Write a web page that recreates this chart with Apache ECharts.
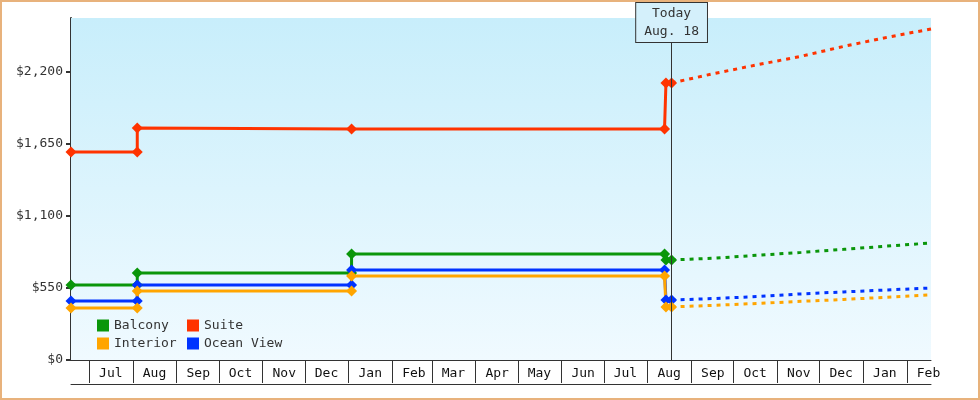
<!DOCTYPE html>
<html><head><meta charset="utf-8">
<script src="https://cdn.jsdelivr.net/npm/echarts@6/dist/echarts.min.js"></script>
<style>html,body{margin:0;padding:0;background:#fff}#c{width:980px;height:400px;box-sizing:border-box;border:2px solid #e8b27c}</style>
</head><body><div id="c"></div>
<script>
const suite = [['2024-06-18',1589],['2024-08-04',1589],['2024-08-04',1772],['2025-01-03',1765],['2025-08-13',1765],['2025-08-14',2116],['2025-08-18',2116]];
const balcony = [['2024-06-18',573],['2024-08-04',573],['2024-08-04',665],['2025-01-03',665],['2025-01-03',810],['2025-08-13',810],['2025-08-14',764],['2025-08-18',764]];
const ocean = [['2024-06-18',451],['2024-08-04',451],['2024-08-04',573],['2025-01-03',573],['2025-01-03',688],['2025-08-13',688],['2025-08-14',458],['2025-08-18',458]];
const interior = [['2024-06-18',397],['2024-08-04',397],['2024-08-04',527],['2025-01-03',527],['2025-01-03',642],['2025-08-13',642],['2025-08-14',405],['2025-08-18',405]];
const suiteF = [['2025-08-18',2116],['2025-09-18',2190],['2025-10-18',2255],['2025-11-18',2320],['2025-12-18',2395],['2026-01-18',2465],['2026-02-18',2528]];
const balconyF = [['2025-08-18',764],['2025-09-18',778],['2025-10-18',800],['2025-11-18',822],['2025-12-18',845],['2026-01-18',870],['2026-02-18',894]];
const oceanF = [['2025-08-18',458],['2025-09-18',470],['2025-10-18',485],['2025-11-18',505],['2025-12-18',520],['2026-01-18',535],['2026-02-18',550]];
const interiorF = [['2025-08-18',405],['2025-09-18',418],['2025-10-18',432],['2025-11-18',448],['2025-12-18',462],['2026-01-18',480],['2026-02-18',497]];
const yTicks = [0,550,1100,1650,2200];
const FONT = 'DejaVu Sans Mono';
const C = {Balcony:'#0a960a', Suite:'#ff3300', Interior:'#ffa500', 'Ocean View':'#0033ff'};
const chart = echarts.init(document.getElementById('c'));
function solid(name, data, extra){
  return Object.assign({name, type:'line', data, color:C[name], symbol:'diamond', symbolSize:11,
    lineStyle:{width:3}, animation:false}, extra||{});
}
function dotted(name, data){
  return {name, type:'line', data, color:C[name], symbol:'none', lineStyle:{width:3,type:[4,5]}, animation:false};
}
chart.setOption({
  textStyle:{fontFamily:FONT},
  grid:{left:69,right:47,top:16,bottom:38},
  legend:[
    {left:90,top:312,orient:'vertical',itemGap:5,itemWidth:12,itemHeight:12,icon:'rect',data:['Balcony','Interior'],textStyle:{fontFamily:FONT,fontSize:13,color:'#333'}},
    {left:180,top:312,orient:'vertical',itemGap:5,itemWidth:12,itemHeight:12,icon:'rect',data:['Suite','Ocean View'],textStyle:{fontFamily:FONT,fontSize:13,color:'#333'}}
  ],
  xAxis:[{type:'time',min:'2024-06-18',max:'2026-02-18',minInterval:28*86400000,maxInterval:31*86400000,
    axisLine:{lineStyle:{color:'#333',width:1}},
    axisTick:{length:23,lineStyle:{color:'#333'}},
    axisLabel:{formatter:'{MMM}',fontFamily:FONT,fontSize:13,color:'#111',margin:7,padding:[0,0,0,43],hideOverlap:false,showMinLabel:false},
    splitLine:{show:false}},
   {type:'time',position:'bottom',offset:24,min:'2024-06-18',max:'2026-02-18',
    axisLine:{show:true,lineStyle:{color:'#333'}},axisTick:{show:false},axisLabel:{show:false},splitLine:{show:false}}],
  yAxis:{type:'value',min:0,max:2612,interval:550,
    axisLine:{show:true,lineStyle:{color:'#333',width:2}},
    axisTick:{show:true,length:5,lineStyle:{color:'#333',width:2},customValues:yTicks},
    axisLabel:{fontFamily:FONT,fontSize:13,color:'#333',customValues:yTicks,formatter:v=>'$'+v.toLocaleString('en-US')},
    splitLine:{show:false}},
  series:[
    solid('Suite',suite,{
      markArea:{silent:true,itemStyle:{color:new echarts.graphic.LinearGradient(0,0,0,1,[{offset:0,color:'#c8eefb'},{offset:1,color:'#f0faff'}])},
        data:[[{xAxis:'2024-06-18',yAxis:2612},{xAxis:'2026-02-18',yAxis:0}]]},
      markLine:{silent:true,symbol:'none',lineStyle:{color:'#333',width:1,type:'solid'},
        label:{show:true,position:'end',formatter:'Today\nAug. 18',fontFamily:FONT,fontSize:13,color:'#333',lineHeight:18,
          backgroundColor:'#d4f0fb',borderColor:'#333',borderWidth:1,padding:[2,8,1,8],distance:-24},
        data:[{xAxis:'2025-08-18'}]}
    }),
    solid('Balcony',balcony),
    solid('Ocean View',ocean),
    solid('Interior',interior),
    dotted('Suite',suiteF),dotted('Balcony',balconyF),dotted('Ocean View',oceanF),dotted('Interior',interiorF)
  ]
});
</script></body></html>
